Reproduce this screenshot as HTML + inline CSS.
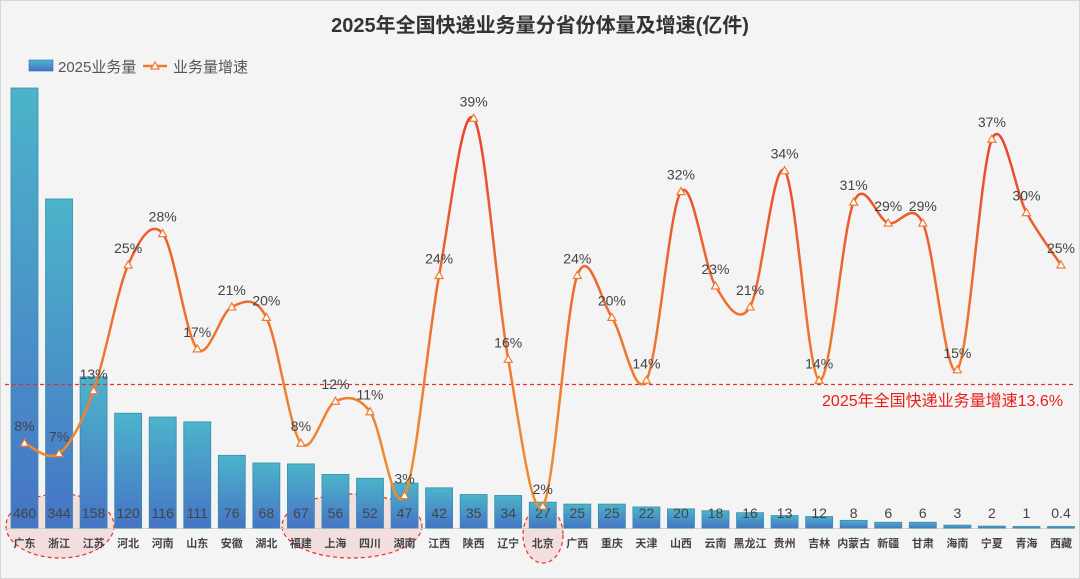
<!DOCTYPE html>
<html><head><meta charset="utf-8">
<style>
html,body{margin:0;padding:0;background:#f4f4f4;}
svg{display:block;font-family:"Liberation Sans","Noto Sans CJK SC",sans-serif;}
</style></head>
<body>
<svg id="c" width="1080" height="579" viewBox="0 0 1080 579" xmlns="http://www.w3.org/2000/svg">
<defs>
<linearGradient id="g" x1="0" y1="0" x2="0" y2="1">
<stop offset="0" stop-color="#4cb4ca"/><stop offset="1" stop-color="#4674c6"/>
</linearGradient>
<linearGradient id="lg" gradientUnits="userSpaceOnUse" x1="0" y1="110" x2="0" y2="460">
<stop offset="0" stop-color="#e8402a"/><stop offset="0.5" stop-color="#ee6a30"/><stop offset="1" stop-color="#f08a30"/>
</linearGradient>
</defs>
<rect x="0.5" y="0.5" width="1079" height="578" fill="#f4f4f4" stroke="#d6d6d6"/>
<text x="540" y="32" text-anchor="middle" font-size="20" font-weight="bold" fill="#333">2025年全国快递业务量分省份体量及增速(亿件)</text>
<rect x="29" y="60" width="24" height="11" fill="url(#g)" stroke="#3a6ab0" stroke-width="0.6"/>
<text x="58" y="72" font-size="15" fill="#555">2025业务量</text>
<line x1="143" y1="66" x2="167" y2="66" stroke="#f07a30" stroke-width="2.5"/>
<polygon points="155,62 159,69 151,69" fill="#fff" stroke="#f07a30" stroke-width="1.2"/>
<text x="173" y="72" font-size="15" fill="#555">业务量增速</text>
<g id="bars"></g>
<line x1="5" y1="384.5" x2="1075" y2="384.5" stroke="#e8302a" stroke-width="1.2" stroke-dasharray="4,3"/>
<text x="1063" y="406" text-anchor="end" font-size="16" fill="#e8201a">2025年全国快递业务量增速13.6%</text>
<g id="line"></g>
</svg>
<script>
var names=["广东","浙江","江苏","河北","河南","山东","安徽","湖北","福建","上海","四川","湖南","江西","陕西","辽宁","北京","广西","重庆","天津","山西","云南","黑龙江","贵州","吉林","内蒙古","新疆","甘肃","海南","宁夏","青海","西藏"];
var vals=[460,344,158,120,116,111,76,68,67,56,52,47,42,35,34,27,25,25,22,20,18,16,13,12,8,6,6,3,2,1,0.4];
var gr=[8,7,13,25,28,17,21,20,8,12,11,3,24,39,16,2,24,20,14,32,23,21,34,14,31,29,29,15,37,30,25];
var NS="http://www.w3.org/2000/svg";
function el(t,a,p,txt){var e=document.createElementNS(NS,t);for(var k in a)e.setAttribute(k,a[k]);if(txt!=null)e.textContent=txt;p.appendChild(e);return e;}
var B=document.getElementById("bars"),L=document.getElementById("line");
var base=528,sc=440/460,pitch=34.55,c0=24.5,bw=27;
el("ellipse",{cx:60,cy:526,rx:54,ry:32,fill:"rgba(240,180,180,0.35)",stroke:"#e8302a","stroke-width":1.2,"stroke-dasharray":"4,3"},B);
el("ellipse",{cx:352,cy:526,rx:70,ry:32,fill:"rgba(240,180,180,0.35)",stroke:"#e8302a","stroke-width":1.2,"stroke-dasharray":"4,3"},B);
el("ellipse",{cx:543,cy:535,rx:20,ry:28,fill:"rgba(240,180,180,0.35)",stroke:"#e8302a","stroke-width":1.2,"stroke-dasharray":"4,3"},B);
el("line",{x1:5,y1:base+0.5,x2:1075,y2:base+0.5,stroke:"#d0d0d0"},B);
var pts=[];
for(var i=0;i<31;i++){
 var cx=c0+i*pitch,h=Math.max(vals[i]*sc,1.5);
 el("rect",{x:cx-bw/2,y:base-h,width:bw,height:h,fill:"url(#g)",stroke:"#3a8ea8","stroke-width":0.8},B);
 el("text",{x:cx,y:518,"text-anchor":"middle","font-size":14,fill:"#444"},B,String(vals[i]));
 el("text",{x:cx,y:547,"text-anchor":"middle","font-size":11,"font-weight":"bold",fill:"#444"},B,names[i]);
 pts.push([cx,527-gr[i]*10.48]);
}
var d="M"+pts[0][0]+","+pts[0][1];
for(var i=0;i<pts.length-1;i++){
 var p0=pts[i-1]||pts[i],p1=pts[i],p2=pts[i+1],p3=pts[i+2]||p2,t=6;
 d+=" C"+(p1[0]+(p2[0]-p0[0])/t)+","+(p1[1]+(p2[1]-p0[1])/t)+" "+(p2[0]-(p3[0]-p1[0])/t)+","+(p2[1]-(p3[1]-p1[1])/t)+" "+p2[0]+","+p2[1];
}
el("path",{d:d,fill:"none",stroke:"url(#lg)","stroke-width":2.5},L);
for(var i=0;i<31;i++){
 var x=pts[i][0],y=pts[i][1];
 el("polygon",{points:x+","+(y-4)+" "+(x+4)+","+(y+3)+" "+(x-4)+","+(y+3),fill:"#fff",stroke:"#f07a30","stroke-width":1.2},L);
 el("text",{x:x,y:y-12,"text-anchor":"middle","font-size":14,fill:"#444"},L,gr[i]+"%");
}
</script>
</body></html>
